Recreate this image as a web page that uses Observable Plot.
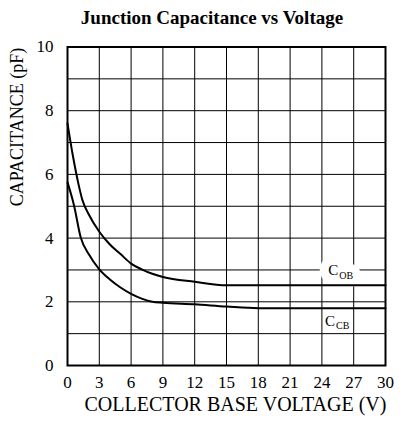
<!DOCTYPE html>
<html>
<head>
<meta charset="utf-8">
<script src="https://cdn.jsdelivr.net/npm/d3@7"></script>
<script src="https://cdn.jsdelivr.net/npm/@observablehq/plot@0.6"></script>
<style>
  html, body { margin: 0; padding: 0; background: #fff; }
  #title { height: 36px; line-height: 36px; width: 400px; text-align: center; padding-left: 24px; box-sizing: border-box;
           font-family: "Liberation Serif", "Times New Roman", serif; font-weight: bold; font-size: 19px; color: #000; }
  #chart svg, #chart svg g, #chart svg text { font-family: "Liberation Serif", "Times New Roman", serif !important; font-variant: normal !important; font-variant-numeric: normal !important; }
</style>
</head>
<body>
<div id="title">Junction Capacitance vs Voltage</div>
<div id="chart"></div>
<script>
const titleText = "Junction Capacitance vs Voltage";
const xLabel = "COLLECTOR BASE VOLTAGE (V)";
const yLabel = "CAPACITANCE (pF)";
const xTicks = [0, 3, 6, 9, 12, 15, 18, 21, 24, 27, 30];
const yTicks = [0, 2, 4, 6, 8, 10];
const yGrid = [0, 1, 2, 3, 4, 5, 6, 7, 8, 9, 10];

// C_OB (upper curve)
const voltageOB = [0, 0.5, 1, 1.4, 2, 3, 4, 5, 6, 7, 8, 9, 12, 15, 30];
const capOB     = [7.6, 6.6, 5.75, 5.2, 4.75, 4.2, 3.8, 3.5, 3.2, 3.02, 2.88, 2.78, 2.63, 2.52, 2.52];
// C_CB (lower curve)
const voltageCB = [0, 0.6, 1.25, 2, 3, 4, 5, 6, 7, 8, 9, 12, 15, 18, 30];
const capCB     = [5.75, 5.05, 4.02, 3.5, 3.02, 2.7, 2.45, 2.25, 2.1, 2.0, 1.97, 1.92, 1.85, 1.8, 1.8];

const seriesNames = ["OB", "CB"];
const labelX = [24.6, 24.3];
const labelY = [2.98, 1.4];

const ob = voltageOB.map((v, i) => ({v, c: capOB[i], s: "OB"}));
const cb = voltageCB.map((v, i) => ({v, c: capCB[i], s: "CB"}));
const labels = seriesNames.map((s, i) => ({s, x: labelX[i], y: labelY[i]}));

const serif = "Liberation Serif";

const chart = Plot.plot({
  width: 400,
  height: 388,
  marginTop: 10.5,
  marginBottom: 59,
  marginLeft: 67,
  marginRight: 15,
  style: {fontFamily: serif, fontSize: "17px", color: "#000", background: "#fff"},
  x: {domain: [0, 30]},
  y: {domain: [0, 10]},
  marks: [
    Plot.gridX(xTicks, {stroke: "#000", strokeOpacity: 1, strokeWidth: 1}),
    Plot.gridY(yGrid, {stroke: "#000", strokeOpacity: 1, strokeWidth: 1}),
    Plot.axisX(xTicks, {tickSize: 0, tickPadding: 10, label: null, fontSize: 17, fontFamily: serif, fontVariant: "normal"}),
    Plot.axisY(yTicks, {tickSize: 0, tickPadding: 14, label: null, fontSize: 17, fontFamily: serif, fontVariant: "normal"}),
    Plot.text([xLabel], {frameAnchor: "bottom", dy: 45, dx: 9, text: d => d, fontSize: 20, fontFamily: serif}),
    Plot.text([yLabel], {frameAnchor: "left", dx: -50, rotate: -90, text: d => d, fontSize: 18, fontFamily: serif}),
    // label halo for C_OB
    Plot.text(labels.filter(d => d.s === "OB"), {x: "x", y: "y", text: () => "C", textAnchor: "start", fontSize: 15, fontFamily: serif,
      stroke: "white", fill: "white", strokeWidth: 18, strokeLinejoin: "round"}),
    Plot.text(labels.filter(d => d.s === "OB"), {x: "x", y: "y", text: "s", textAnchor: "start", fontSize: 10, dx: 11, dy: 5, fontFamily: serif,
      stroke: "white", fill: "white", strokeWidth: 16, strokeLinejoin: "round"}),
    Plot.text(labels, {x: "x", y: "y", text: () => "C", textAnchor: "start", fontSize: 15, fontFamily: serif, fill: "#000"}),
    Plot.text(labels, {x: "x", y: "y", text: "s", textAnchor: "start", fontSize: 10, dx: 11, dy: 5, fontFamily: serif, fill: "#000"}),
    Plot.line(ob, {x: "v", y: "c", stroke: "#000", strokeWidth: 2, curve: "monotone-x"}),
    Plot.line(cb, {x: "v", y: "c", stroke: "#000", strokeWidth: 2, curve: "monotone-x"}),
    Plot.frame({stroke: "#000", strokeWidth: 2})
  ]
});
document.getElementById("chart").appendChild(chart);
</script>
</body>
</html>
